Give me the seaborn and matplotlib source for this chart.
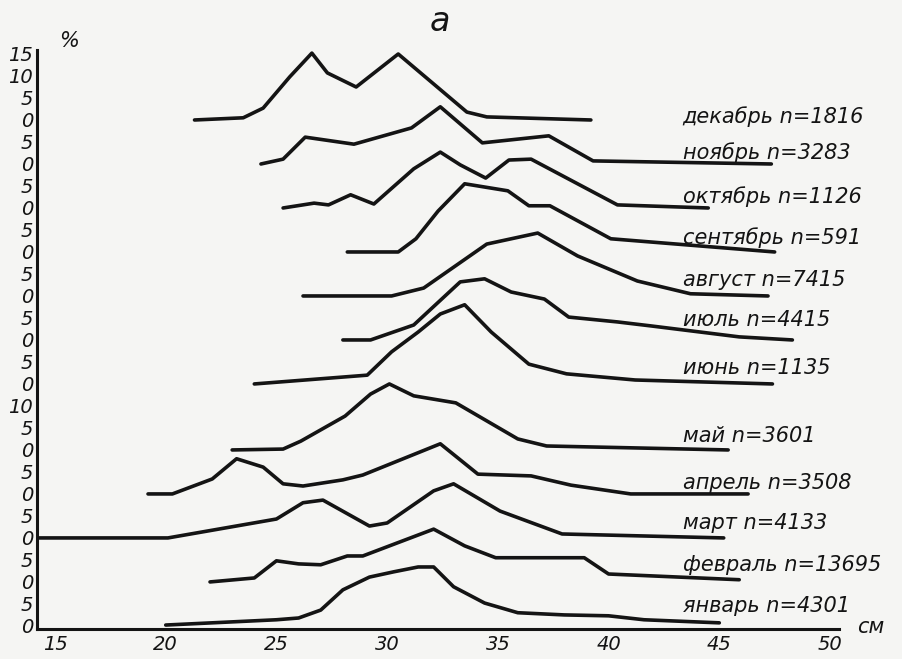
import numpy as np
import pandas as pd
import matplotlib
matplotlib.use("Agg")
import matplotlib.pyplot as plt
import seaborn as sns

months = ["январь", "февраль", "март", "апрель", "май", "июнь",
          "июль", "август", "сентябрь", "октябрь", "ноябрь", "декабрь"]
counts = [4301, 13695, 4133, 3508, 3601, 1135, 4415, 7415, 591, 1126, 3283, 1816]

# length (cm) and share (%)
jan_cm = [20, 25, 26, 27, 28, 29.2, 30.3, 31.4, 32.1, 33, 34.4, 35.9, 38, 40, 41.6, 45]
jan_pct = [0.2, 1.4, 1.8, 3.6, 8.2, 11.1, 12.3, 13.4, 13.4, 8.9, 5.2, 3.0, 2.5, 2.3, 1.4, 0.7]
feb_cm = [22, 24, 25, 26, 27, 28.2, 28.9, 32.1, 33.5, 34.9, 38.9, 40, 45.9]
feb_pct = [0, 0.9, 4.8, 4.1, 3.9, 5.9, 5.9, 12.0, 8.2, 5.5, 5.5, 1.8, 0.5]
mar_cm = [14.2, 20.1, 25, 26.2, 27.1, 29.2, 30, 32.1, 33, 35.1, 37.9, 45.2]
mar_pct = [0, 0, 4.3, 8.0, 8.6, 2.7, 3.4, 10.7, 12.3, 6.1, 0.9, 0]
apr_cm = [19.2, 20.3, 22.1, 23.2, 24.4, 25.3, 26.2, 28, 28.9, 32.4, 34.1, 36.5, 38.3, 41, 46.3]
apr_pct = [0, 0, 3.4, 8.0, 6.1, 2.3, 1.8, 3.2, 4.3, 11.4, 4.5, 4.1, 2.0, 0, 0]
may_cm = [23, 25.3, 26.1, 28.1, 29.25, 30.1, 31.2, 33.1, 35.9, 37.2, 45.4]
may_pct = [0, 0.2, 2.0, 7.7, 12.7, 15.0, 12.3, 10.7, 2.5, 0.9, 0]
jun_cm = [24, 29.1, 30.2, 31.4, 32.4, 33.5, 34.7, 36.4, 38.1, 41.2, 47.4]
jun_pct = [0, 2.0, 7.3, 11.8, 15.9, 18.0, 11.8, 4.5, 2.3, 0.9, 0]
jul_cm = [28, 29.25, 31.2, 33.3, 34.4, 35.6, 37.1, 38.2, 40.4, 41.9, 45.9, 48.3]
jul_pct = [0, 0, 3.4, 13.2, 13.9, 10.9, 9.3, 5.2, 4.1, 3.2, 0.7, 0]
aug_cm = [26.2, 30.2, 31.65, 34.5, 36.8, 38.6, 41.3, 43.7, 47.2]
aug_pct = [0, 0, 1.8, 11.8, 14.3, 9.1, 3.4, 0.5, 0]
sep_cm = [28.2, 30.5, 31.3, 32.3, 33.5, 35.45, 36.4, 37.35, 40.1, 47.5]
sep_pct = [0, 0, 3.0, 9.3, 15.5, 13.9, 10.5, 10.5, 3.0, 0]
oct_cm = [25.3, 26.7, 27.35, 28.35, 29.4, 31.2, 32.4, 33.3, 34.45, 35.5, 36.5, 40.4, 44.5]
oct_pct = [0, 1.1, 0.7, 3.0, 0.9, 8.9, 12.7, 9.8, 6.8, 10.9, 11.1, 0.7, 0]
nov_cm = [24.3, 25.3, 26.3, 28.5, 31.1, 32.4, 34.3, 37.3, 39.3, 47.35]
nov_pct = [0, 1.1, 6.1, 4.5, 8.2, 13.0, 4.8, 6.4, 0.7, 0]
dec_cm = [21.3, 23.5, 24.4, 25.6, 26.6, 27.3, 28.6, 30.5, 33.6, 34.5, 39.2]
dec_pct = [0, 0.5, 2.7, 9.8, 15.2, 10.7, 7.5, 15.0, 1.8, 0.7, 0]

curves_cm = [jan_cm, feb_cm, mar_cm, apr_cm, may_cm, jun_cm,
             jul_cm, aug_cm, sep_cm, oct_cm, nov_cm, dec_cm]
curves_pct = [jan_pct, feb_pct, mar_pct, apr_pct, may_pct, jun_pct,
              jul_pct, aug_pct, sep_pct, oct_pct, nov_pct, dec_pct]

# vertical stacking of the curves (layout)
baselines = [0, 10, 20, 30, 40, 55, 65, 75, 85, 95, 105, 115]
label_dy = [4.5, 3.9, 3.4, 2.5, 3.2, 3.6, 4.5, 3.6, 3.2, 2.7, 2.5, 0.7]

ytick_pos = list(range(0, 131, 5))
ytick_lab = ["0", "5", "0", "5", "0", "5", "0", "5", "0", "5", "10",
             "0", "5", "0", "5", "0", "5", "0", "5", "0", "5", "0", "5",
             "0", "5", "10", "15"]
xtick_pos = [15, 20, 25, 30, 35, 40, 45, 50]

rows = []
for m, base, xs, ps in zip(months, baselines, curves_cm, curves_pct):
    for i, (x, p) in enumerate(zip(xs, ps)):
        rows.append({"month": m, "order": i, "cm": x, "y": base + p})
df = pd.DataFrame(rows)

sns.set_style("white")
plt.rcParams["font.family"] = ["DejaVu Sans"]
ink = "#141414"
paper = "#f5f5f3"

fig = plt.figure(figsize=(9.03, 6.59), dpi=100, facecolor=paper)
ax = fig.add_axes([37.3 / 903, 30 / 659, 837 / 903, 588.2 / 659])
ax.set_facecolor(paper)

sns.lineplot(data=df, x="cm", y="y", units="month", estimator=None, sort=False,
             color=ink, lw=2.6, ax=ax, legend=False)

ax.set_xlim(14.2, 52)
ax.set_ylim(-0.7, 133)
for s in ["top", "right"]:
    ax.spines[s].set_visible(False)
for s in ["left", "bottom"]:
    ax.spines[s].set_color(ink)
    ax.spines[s].set_linewidth(2.2)
ax.spines["bottom"].set_bounds(14.2, 50.4)
ax.spines["left"].set_bounds(-0.7, 131)

ax.set_xticks(xtick_pos)
ax.set_xticklabels([str(v) for v in xtick_pos], fontstyle="italic", fontsize=14, color=ink)
ax.set_yticks(ytick_pos)
ax.set_yticklabels(ytick_lab, fontstyle="italic", fontsize=14, color=ink)
ax.tick_params(axis="x", direction="in", length=8, width=1.6, color=ink, pad=4)
ax.tick_params(axis="y", direction="in", length=4, width=1.4, color=ink, pad=3)
ax.set_xlabel("")
ax.set_ylabel("")

for m, c, base, dy in zip(months, counts, baselines, label_dy):
    ax.text(43.35, base + dy, f"{m} n={c}", fontsize=15, fontstyle="italic",
            color=ink, ha="left", va="center")

ax.text(15.2, 133, "%", fontsize=15, fontstyle="italic", color=ink, ha="left", va="center")
ax.text(51.2, -0.3, "см", fontsize=15, fontstyle="italic", color=ink, ha="left", va="center")
fig.text(440 / 903, 1 - 31 / 659, "а", fontsize=24, fontstyle="italic",
         color=ink, ha="center", va="baseline")

fig.savefig("out.png", dpi=100, facecolor=paper)
